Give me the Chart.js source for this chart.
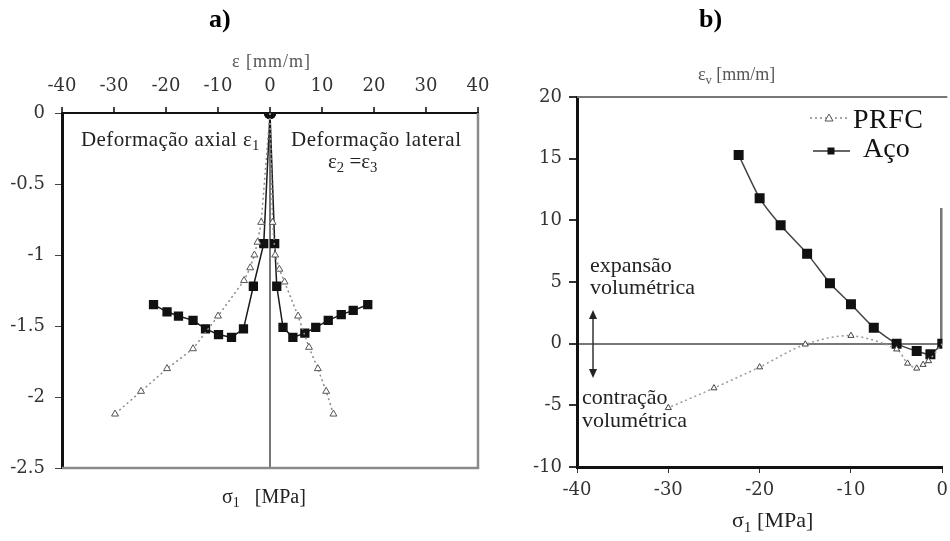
<!DOCTYPE html>
<html>
<head>
<meta charset="utf-8">
<script src="https://cdn.jsdelivr.net/npm/chart.js@4.4.1/dist/chart.umd.min.js"></script>
<style>
  body { margin: 0; background: #fff; width: 950px; height: 541px; overflow: hidden; position: relative;
         font-family: "Liberation Serif", serif; color: #222; }
  canvas { position: absolute; top: 0; }
  .t { position: absolute; white-space: nowrap; line-height: 1; }
  .t sub { font-size: 70%; vertical-align: -0.3em; line-height: 0; }
</style>
</head>
<body>
<canvas id="chartA" width="500" height="541" style="left:0"></canvas>
<canvas id="chartB" width="475" height="541" style="left:480px"></canvas>

<!-- panel titles and labels -->
<div class="t" style="left:209px;top:6px;font-size:26px;font-weight:bold;color:#000">a)</div>
<div class="t" style="left:699px;top:6px;font-size:26px;font-weight:bold;color:#000">b)</div>

<div class="t" style="left:232px;top:52px;font-size:18px;color:#555;letter-spacing:1px">&epsilon; [mm/m]</div>
<div class="t" style="left:81px;top:129px;font-size:21px;letter-spacing:0.4px">Deformação axial &epsilon;<sub>1</sub></div>
<div class="t" style="left:291px;top:129px;font-size:21px;letter-spacing:0.5px">Deformação lateral</div>
<div class="t" style="left:328px;top:151px;font-size:21px">&epsilon;<sub>2</sub> =&epsilon;<sub>3</sub></div>
<div class="t" style="left:222px;top:486px;font-size:20px">&sigma;<sub>1</sub>&nbsp;&nbsp; [MPa]</div>

<div class="t" style="left:698px;top:65px;font-size:18px;color:#555">&epsilon;<sub>v</sub> [mm/m]</div>
<div class="t" style="left:590px;top:254px;font-size:22px">expansão</div>
<div class="t" style="left:590px;top:276px;font-size:22px">volumétrica</div>
<div class="t" style="left:582px;top:386px;font-size:22px">contração</div>
<div class="t" style="left:582px;top:409px;font-size:22px">volumétrica</div>
<div class="t" style="left:732px;top:509px;font-size:22px">&sigma;<sub>1</sub> [MPa]</div>

<!-- legend for panel b -->
<svg style="position:absolute;left:808px;top:110px" width="44" height="50">
  <line x1="2" y1="8" x2="40" y2="8" stroke="#888" stroke-width="1.5" stroke-dasharray="2,3"/>
  <polygon points="21,4 25,11 17,11" fill="#fff" stroke="#555" stroke-width="1"/>
  <line x1="5" y1="41" x2="42" y2="41" stroke="#333" stroke-width="1.5"/>
  <rect x="19.5" y="37.5" width="7" height="7" fill="#111"/>
</svg>
<div class="t" style="left:853px;top:105px;font-size:28px;color:#111;letter-spacing:0.5px">PRFC</div>
<div class="t" style="left:863px;top:134px;font-size:28px;color:#111">Aço</div>

<!-- double arrow, panel b -->
<svg style="position:absolute;left:586px;top:305px" width="14" height="80">
  <line x1="7" y1="12" x2="7" y2="66" stroke="#333" stroke-width="1.5"/>
  <polygon points="7,5 11,14 3,14" fill="#222"/>
  <polygon points="7,73 11,64 3,64" fill="#222"/>
</svg>

<script>
// --- PANEL A: eps [mm/m] vs sigma ---
const aXTicks = [-40, -30, -20, -10, 0, 10, 20, 30, 40];
const aYTicks = [0, -0.5, -1, -1.5, -2, -2.5];

const acoAxialEps = [0, -1.2, -3.2, -5.1, -7.4, -9.9, -12.4, -14.8, -17.6, -19.8, -22.4];
const acoAxialSig = [0, -0.92, -1.22, -1.52, -1.58, -1.56, -1.52, -1.46, -1.43, -1.40, -1.35];
const acoLatEps = [0, 0.9, 1.3, 2.5, 4.4, 6.7, 8.8, 11.2, 13.7, 16.0, 18.8];
const acoLatSig = [0, -0.92, -1.22, -1.51, -1.58, -1.55, -1.51, -1.46, -1.42, -1.39, -1.35];
const prfcAxialEps = [0, -1.7, -2.4, -3.0, -3.8, -5.0, -10.0, -14.8, -19.8, -24.8, -29.8];
const prfcAxialSig = [0, -0.77, -0.91, -1.0, -1.09, -1.18, -1.43, -1.66, -1.80, -1.96, -2.12];
const prfcLatEps = [0, 0.5, 1.0, 1.8, 2.8, 5.4, 7.5, 9.2, 10.8, 12.2];
const prfcLatSig = [0, -0.77, -1.0, -1.1, -1.19, -1.43, -1.65, -1.80, -1.96, -2.12];

// --- PANEL B: eps_v vs sigma_1 ---
const bXTicks = [-40, -30, -20, -10, 0];
const bYTicks = [20, 15, 10, 5, 0, -5, -10];

const acoSig = [0, -1.3, -2.8, -5.0, -7.5, -10.0, -12.3, -14.8, -17.7, -20.0, -22.3];
const acoEv = [0, -0.85, -0.6, 0, 1.3, 3.2, 4.9, 7.3, 9.6, 11.8, 15.3];
const prfcSig = [0, -1.5, -2.1, -2.8, -3.8, -5.0, -10.0, -15.0, -20.0, -25.0, -30.0];
const prfcEv = [0, -1.4, -1.7, -2.0, -1.6, -0.45, 0.65, -0.05, -1.9, -3.6, -5.2];

const TICK_FONT = { family: "DejaVu Serif", size: 18 };

function toPts(xs, ys) {
    return xs.map((x, i) => ({ x: x, y: ys[i] }));
}

function zeroLine(ctx) {
    return ctx.tick && ctx.tick.value === 0 ? '#777' : 'rgba(0,0,0,0)';
}

// plain labels: "-1" not "-1.0"
function plainLabel(v) {
    return String(v);
}

// gray frame edges not covered by the axes
const frameA = {
    id: 'frameA',
    beforeDatasetsDraw(chart) {
        const { ctx, chartArea: a } = chart;
        ctx.save();
        ctx.strokeStyle = '#8a8a8a';
        ctx.lineWidth = 2.5;
        ctx.beginPath();
        ctx.moveTo(a.left, a.bottom);
        ctx.lineTo(a.right, a.bottom);
        ctx.lineTo(a.right, a.top);
        ctx.stroke();
        ctx.restore();
    }
};

const frameB = {
    id: 'frameB',
    beforeDatasetsDraw(chart) {
        const { ctx, chartArea: a } = chart;
        const y = chart.scales.y;
        ctx.save();
        ctx.strokeStyle = '#777';
        ctx.lineWidth = 2;
        ctx.beginPath();
        ctx.moveTo(a.left, a.top);
        ctx.lineTo(a.right + 5, a.top);
        ctx.stroke();
        ctx.lineWidth = 2.5;
        ctx.beginPath();
        ctx.moveTo(a.right - 1, y.getPixelForValue(11));
        ctx.lineTo(a.right - 1, y.getPixelForValue(0));
        ctx.stroke();
        ctx.restore();
    }
};

const common = {
    animation: false,
    responsive: false,
    devicePixelRatio: 1,
    plugins: { legend: { display: false }, tooltip: { enabled: false } }
};

// --- CHART A ---
const acoStyle = {
    showLine: true,
    borderColor: '#1a1a1a',
    borderWidth: 1.5,
    backgroundColor: '#111',
    pointBorderColor: '#111',
    pointRadius: 5.5,
    pointStyle: ctx => ctx.dataIndex === 0 ? 'circle' : 'rect'
};
const prfcStyle = {
    showLine: true,
    borderColor: '#8a8a8a',
    borderWidth: 1.5,
    borderDash: [2, 3],
    backgroundColor: '#fff',
    pointBorderColor: '#555',
    pointBorderWidth: 1,
    pointRadius: ctx => ctx.dataIndex === 0 ? 0 : 4,
    pointStyle: 'triangle'
};

new Chart(document.getElementById('chartA'), {
    type: 'scatter',
    data: {
        datasets: [
            Object.assign({ label: 'PRFC axial', data: toPts(prfcAxialEps, prfcAxialSig) }, prfcStyle),
            Object.assign({ label: 'PRFC lateral', data: toPts(prfcLatEps, prfcLatSig) }, prfcStyle),
            Object.assign({ label: 'Aço axial', data: toPts(acoAxialEps, acoAxialSig) }, acoStyle),
            Object.assign({ label: 'Aço lateral', data: toPts(acoLatEps, acoLatSig) }, acoStyle)
        ]
    },
    options: Object.assign({}, common, {
        layout: { padding: { top: 0, right: 22, bottom: 73, left: 0 } },
        scales: {
            x: {
                type: 'linear', position: 'top', min: -40, max: 40,
                afterBuildTicks: s => { s.ticks = aXTicks.map(v => ({ value: v })); },
                afterFit: s => { s.height = 113; },
                ticks: { font: TICK_FONT, color: '#333', padding: 10, maxRotation: 0, callback: plainLabel },
                grid: { color: zeroLine, lineWidth: 2, tickColor: '#444', tickLength: 6 },
                border: { color: '#111', width: 2 }
            },
            y: {
                type: 'linear', min: -2.5, max: 0,
                afterBuildTicks: s => { s.ticks = aYTicks.map(v => ({ value: v })); },
                afterFit: s => { s.width = 62; },
                ticks: { font: TICK_FONT, color: '#333', padding: 10, callback: plainLabel },
                grid: { drawOnChartArea: false, tickColor: '#444', tickLength: 7 },
                border: { color: '#111', width: 3 }
            }
        }
    }),
    plugins: [frameA]
});

// --- CHART B ---
new Chart(document.getElementById('chartB'), {
    type: 'scatter',
    data: {
        datasets: [
            {
                label: 'PRFC', data: toPts(prfcSig, prfcEv), showLine: true, tension: 0.3,
                borderColor: '#999', borderWidth: 1.5, borderDash: [2, 3],
                backgroundColor: '#fff', pointBorderColor: '#444', pointBorderWidth: 1,
                pointRadius: ctx => ctx.dataIndex === 0 ? 0 : 3.5, pointStyle: 'triangle'
            },
            {
                label: 'Aço', data: toPts(acoSig, acoEv), showLine: true, tension: 0.2,
                borderColor: '#444', borderWidth: 1.5,
                backgroundColor: '#111', pointBorderColor: '#111',
                pointRadius: 6, pointStyle: 'rect'
            }
        ]
    },
    options: Object.assign({}, common, {
        layout: { padding: { top: 97, right: 7, bottom: 0, left: 0 } },
        scales: {
            x: {
                type: 'linear', min: -40, max: 0,
                afterBuildTicks: s => { s.ticks = bXTicks.map(v => ({ value: v })); },
                afterFit: s => { s.height = 74; },
                ticks: { font: TICK_FONT, color: '#333', padding: 7, maxRotation: 0, callback: plainLabel },
                grid: { drawOnChartArea: false, tickColor: '#333', tickLength: 6 },
                border: { color: '#111', width: 3 }
            },
            y: {
                type: 'linear', min: -10, max: 20,
                afterBuildTicks: s => { s.ticks = bYTicks.map(v => ({ value: v })); },
                afterFit: s => { s.width = 97; },
                ticks: { font: TICK_FONT, color: '#333', padding: 7, callback: plainLabel },
                grid: { color: zeroLine, lineWidth: 2, tickColor: '#333', tickLength: 8 },
                border: { color: '#111', width: 3 }
            }
        }
    }),
    plugins: [frameB]
});
</script>
</body>
</html>
